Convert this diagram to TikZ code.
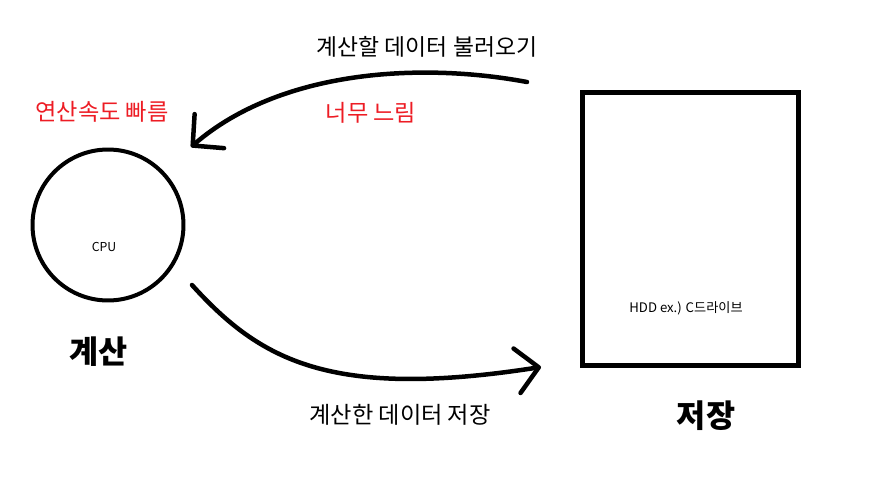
\documentclass[tikz,border=0pt]{standalone}
\usepackage{fontspec}
\setmainfont{Noto Sans CJK KR}
\usetikzlibrary{arrows.meta,positioning}
\definecolor{paintred}{RGB}{237,28,36}

\begin{document}
\begin{tikzpicture}[
  x=0.02cm, y=-0.02cm,
  every node/.style={align=center, inner sep=0pt},
  unit/.style={draw, line width=0.08cm},
  flow/.style={line width=0.09cm, line cap=round,
    -{Straight Barb[length=0.44cm, width=0.9cm, line cap=round, line join=round]}},
  note/.style={font=\fontsize{13.2}{15}\selectfont},
  warn/.style={note, text=paintred},
  title/.style={font=\fontsize{18}{20}\bfseries\selectfont}
]
  \useasboundingbox (0,0) rectangle (877,477);

  % units
  \node[unit, circle, minimum size=3.02cm] (cpu) at (108,225) {};
  \node[unit, rectangle, line width=0.095cm, minimum width=4.32cm, minimum height=5.46cm] (hdd) at (690.5,229) {};
  \node[font=\fontsize{7}{8}\selectfont] (cpulbl) at (104,247) {CPU};
  \node[font=\fontsize{7.5}{9}\selectfont] (hddlbl) at (686,308) {HDD ex.) C드라이브};

  \node[title] (calc) at (99,352) {계산};
  \node[title] (store) at (706,416) {저장};

  % arrows
  \coordinate (loadsrc) at (527,82);
  \coordinate (loaddst) at (191,147);
  \coordinate (savesrc) at (192,285);
  \coordinate (savedst) at (541,367);
  \draw[flow] (loadsrc) .. controls (420,62) and (280,70) .. (loaddst);
  \draw[flow] (savesrc) .. controls (260,360) and (330,400) .. (savedst);

  % labels
  \node[note, font=\fontsize{13}{15}\selectfont] (loadlbl) at (427,47) {계산할 데이터 불러오기};
  \node[warn] (slowlbl) at (371,113) {너무 느림};
  \node[warn] (fastlbl) at (102,112) {연산속도 빠름};
  \node[note] (savelbl) at (400,415) {계산한 데이터 저장};
\end{tikzpicture}
\end{document}
